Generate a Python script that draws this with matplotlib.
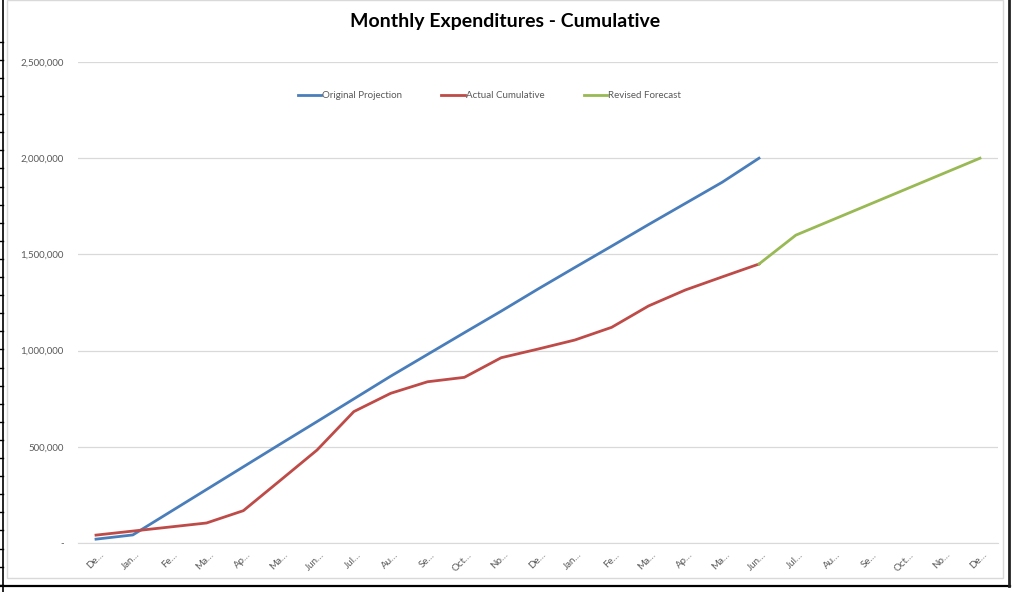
import numpy as np
import matplotlib
matplotlib.use('Agg')
import matplotlib.pyplot as plt
from matplotlib.lines import Line2D
from matplotlib.patches import Rectangle
from matplotlib.ticker import FuncFormatter
from matplotlib.transforms import ScaledTranslation

plt.rcParams['font.family'] = ['Lato', 'DejaVu Sans']

# ── data ─────────────────────────────────────────────
months = ['De…', 'Jan…', 'Fe…', 'Ma…', 'Ap…', 'Ma…', 'Jun…', 'Jul…', 'Au…',
          'Se…', 'Oct…', 'No…', 'De…', 'Jan…', 'Fe…', 'Ma…', 'Ap…', 'Ma…',
          'Jun…', 'Jul…', 'Au…', 'Se…', 'Oct…', 'No…', 'De…']

original = [20000, 42000, 160000, 278000, 396000, 514000, 631000, 749000,
            867000, 980000, 1093000, 1205000, 1320000, 1432000, 1543000,
            1655000, 1765000, 1875000, 2000000]
actual = [41000, 62000, 83000, 104000, 168000, 325000, 483000, 683000,
          778000, 838000, 861000, 963000, 1008000, 1055000, 1121000,
          1232000, 1315000, 1383000, 1450000]
revised = [1450000, 1600000, 1680000, 1760000, 1840000, 1920000, 2000000]
revised_start = 18

BLUE = '#4A7EBB'
RED = '#BE4B48'
GREEN = '#98B954'

W, H = 1017, 592
fig = plt.figure(figsize=(W / 100, H / 100), dpi=100)

def fx(px): return px / W
def fy(py): return 1 - py / H

# ── spreadsheet / chart frame ───────────────────────
fig.add_artist(Rectangle((fx(7), fy(578)), fx(1003) - fx(7), fy(0) - fy(578),
                         transform=fig.transFigure, fill=False,
                         edgecolor='#D9D9D9', lw=1.0))
fig.add_artist(Line2D([fx(3), fx(3)], [fy(0), fy(592)], color='black', lw=1.2))
for ry in np.arange(41.7, 585, 18.1):
    fig.add_artist(Line2D([fx(0), fx(3)], [fy(ry), fy(ry)], color='black', lw=1.0))
fig.add_artist(Line2D([fx(0), fx(1010)], [fy(586), fy(586)], color='black', lw=1.6))
fig.add_artist(Line2D([fx(1009), fx(1009)], [fy(0), fy(586)], color='#222222', lw=2.0))

# ── plot ─────────────────────────────────────────────
ax = fig.add_axes([fx(77.6), fy(543), fx(998.4) - fx(77.6), fy(62) - fy(543)])

x_all = np.arange(len(months))
ax.plot(x_all[:len(original)], original, color=BLUE, lw=2.0, label='Original Projection')
ax.plot(x_all[:len(actual)], actual, color=RED, lw=2.0, label='Actual Cumulative')
ax.plot(x_all[revised_start:revised_start + len(revised)], revised, color=GREEN, lw=2.0,
        label='Revised Forecast')

ax.set_xlim(-0.5, len(months) - 0.5)
ax.set_ylim(0, 2500000)
ax.set_yticks(np.arange(0, 2500001, 500000))
ax.yaxis.set_major_formatter(FuncFormatter(lambda v, p: '-' if v == 0 else f'{v:,.0f}'))
ax.grid(axis='y', color='#D9D9D9', lw=0.9)
ax.set_axisbelow(True)
for s in ['top', 'right', 'left']:
    ax.spines[s].set_visible(False)
ax.spines['bottom'].set_color('#D9D9D9')
ax.tick_params(axis='y', length=0, pad=10, labelsize=7, labelcolor='#595959')
ax.tick_params(axis='x', length=0, pad=6, labelsize=7, labelcolor='#595959')
ax.set_xticks(x_all)
ax.set_xticklabels(months, rotation=45, ha='right', va='center', rotation_mode='anchor')
for t in ax.get_xticklabels():
    t.set_transform(t.get_transform() + ScaledTranslation(6 / 100, -2 / 100, fig.dpi_scale_trans))

fig.text(fx(505), fy(22), 'Monthly Expenditures - Cumulative', ha='center', va='center',
         fontsize=14, fontweight='bold', color='black')

fig.legend(loc='center', bbox_to_anchor=(fx(489.5), fy(96)), ncol=3, frameon=False,
           fontsize=7, handlelength=2.4, handletextpad=0.15, columnspacing=4.0,
           labelcolor='#595959')

fig.savefig('out.png', dpi=100, facecolor='white')
